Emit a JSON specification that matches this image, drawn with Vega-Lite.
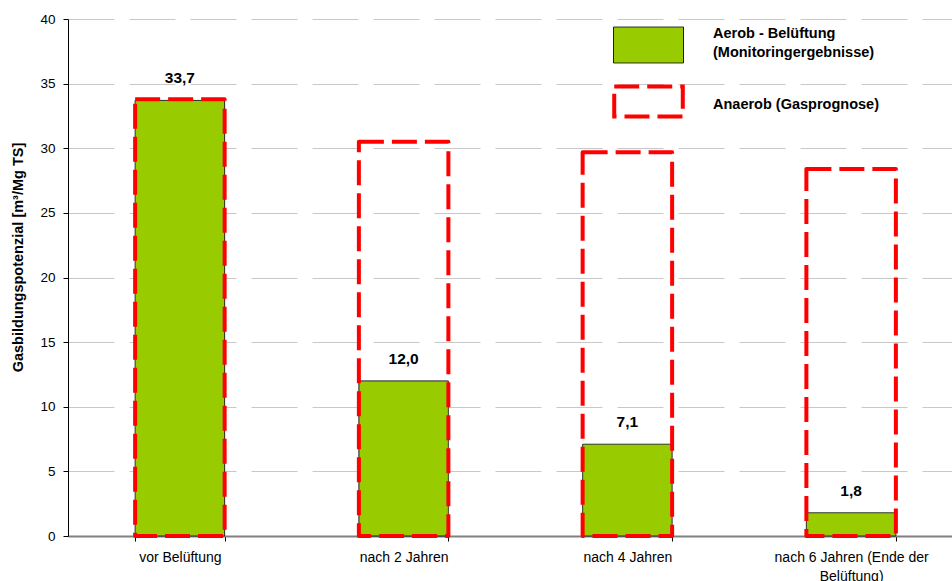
{
  "$schema": "https://vega.github.io/schema/vega-lite/v6.json",
  "autosize": {"type": "none"},
  "padding": {"left": 68, "top": 19, "right": 0, "bottom": 45},
  "width": 884,
  "height": 517,
  "background": "white",
  "config": {
    "font": "Liberation Sans",
    "view": {"stroke": null},
    "locale": {
      "number": {"decimal": ",", "thousands": ".", "grouping": [3], "currency": ["", " €"]}
    },
    "legend": {
      "orient": "none",
      "legendX": 544,
      "legendY": -9,
      "padding": 0,
      "title": null,
      "symbolType": "M-1,-0.514H1V0.514H-1Z",
      "symbolSize": 4900,
      "labelFont": "Liberation Sans",
      "labelFontSize": 14.5,
      "labelFontWeight": "bold",
      "labelColor": "black",
      "labelOffset": 28,
      "labelLimit": 400,
      "rowPadding": -3
    }
  },
  "data": {
    "values": [
      {"Zeitpunkt": "vor Belüftung", "Serie": "Aerob - Belüftung (Monitoringergebnisse)", "Wert": 33.7},
      {"Zeitpunkt": "nach 2 Jahren", "Serie": "Aerob - Belüftung (Monitoringergebnisse)", "Wert": 12.0},
      {"Zeitpunkt": "nach 4 Jahren", "Serie": "Aerob - Belüftung (Monitoringergebnisse)", "Wert": 7.1},
      {"Zeitpunkt": "nach 6 Jahren (Ende der Belüftung)", "Serie": "Aerob - Belüftung (Monitoringergebnisse)", "Wert": 1.8},
      {"Zeitpunkt": "vor Belüftung", "Serie": "Anaerob (Gasprognose)", "Wert": 33.8},
      {"Zeitpunkt": "nach 2 Jahren", "Serie": "Anaerob (Gasprognose)", "Wert": 30.5},
      {"Zeitpunkt": "nach 4 Jahren", "Serie": "Anaerob (Gasprognose)", "Wert": 29.7},
      {"Zeitpunkt": "nach 6 Jahren (Ende der Belüftung)", "Serie": "Anaerob (Gasprognose)", "Wert": 28.4}
    ]
  },
  "encoding": {
    "x": {
      "field": "Zeitpunkt",
      "type": "nominal",
      "sort": null,
      "scale": {"range": [0, 895], "paddingInner": 0.6, "paddingOuter": 0.3},
      "axis": {
        "title": null,
        "labelAngle": 0,
        "labelFont": "Liberation Sans",
        "labelFontSize": 14,
        "labelColor": "black",
        "labelPadding": 9,
        "labelLineHeight": 19,
        "labelLimit": 300,
        "labelExpr": "datum.label == 'nach 6 Jahren (Ende der Belüftung)' ? ['nach 6 Jahren (Ende der', 'Belüftung)'] : datum.label",
        "domainColor": "#808080",
        "domainWidth": 2,
        "tickBand": "extent",
        "tickColor": "black",
        "tickSize": 5,
        "grid": false
      }
    },
    "y": {
      "field": "Wert",
      "type": "quantitative",
      "stack": null,
      "scale": {"domain": [0, 40], "nice": false},
      "axis": {
        "title": "Gasbildungspotenzial [m³/Mg TS]",
        "titleFont": "Liberation Sans",
        "titleFontSize": 14.5,
        "titleFontWeight": "bold",
        "titleColor": "black",
        "titlePadding": 14,
        "titleY": 238,
        "values": [0, 5, 10, 15, 20, 25, 30, 35, 40],
        "labelFont": "Liberation Sans",
        "labelFontSize": 13.5,
        "labelColor": "black",
        "labelPadding": 8,
        "domainColor": "black",
        "domainWidth": 1,
        "tickColor": "black",
        "tickSize": 5,
        "grid": true,
        "gridColor": "#c8c8c8",
        "gridWidth": 1,
        "gridDash": [46, 15]
      }
    }
  },
  "layer": [
    {
      "mark": {"type": "bar", "strokeJoin": "round"},
      "encoding": {
        "fill": {
          "field": "Serie",
          "type": "nominal",
          "scale": {
            "domain": ["Aerob - Belüftung (Monitoringergebnisse)", "Anaerob (Gasprognose)"],
            "range": ["#99cc00", "transparent"]
          },
          "legend": {
            "labelExpr": "datum.label == 'Aerob - Belüftung (Monitoringergebnisse)' ? ['Aerob - Belüftung', '(Monitoringergebnisse)'] : datum.label",
            "encode": {
              "labels": {
                "update": {
                  "dy": {"signal": "datum.index == 0 ? -11 : 3"},
                  "lineHeight": {"value": 18.5}
                }
              },
              "symbols": {
                "update": {
                  "shape": {"signal": "datum.index == 0 ? 'M-1,-0.514H1V0.514H-1Z' : 'M-1,-0.44H1V0.44H-1Z'"},
                  "size": {"signal": "datum.index == 0 ? 4900 : 4700"}
                }
              }
            }
          }
        },
        "stroke": {
          "field": "Serie",
          "type": "nominal",
          "scale": {
            "domain": ["Aerob - Belüftung (Monitoringergebnisse)", "Anaerob (Gasprognose)"],
            "range": ["#1a1a1a", "#ff0000"]
          }
        },
        "strokeDash": {
          "field": "Serie",
          "type": "nominal",
          "scale": {
            "domain": ["Aerob - Belüftung (Monitoringergebnisse)", "Anaerob (Gasprognose)"],
            "range": [[1, 0], [25, 8]]
          }
        },
        "strokeWidth": {
          "field": "Serie",
          "type": "nominal",
          "scale": {
            "domain": ["Aerob - Belüftung (Monitoringergebnisse)", "Anaerob (Gasprognose)"],
            "range": [1, 4]
          }
        }
      }
    },
    {
      "transform": [{"filter": "datum.Serie == 'Aerob - Belüftung (Monitoringergebnisse)'"}],
      "mark": {
        "type": "text",
        "font": "Liberation Sans",
        "fontSize": 15.5,
        "fontWeight": "bold",
        "color": "black",
        "baseline": "alphabetic",
        "dy": -17
      },
      "encoding": {
        "text": {"field": "Wert", "type": "quantitative", "format": ".1f"}
      }
    }
  ]
}
